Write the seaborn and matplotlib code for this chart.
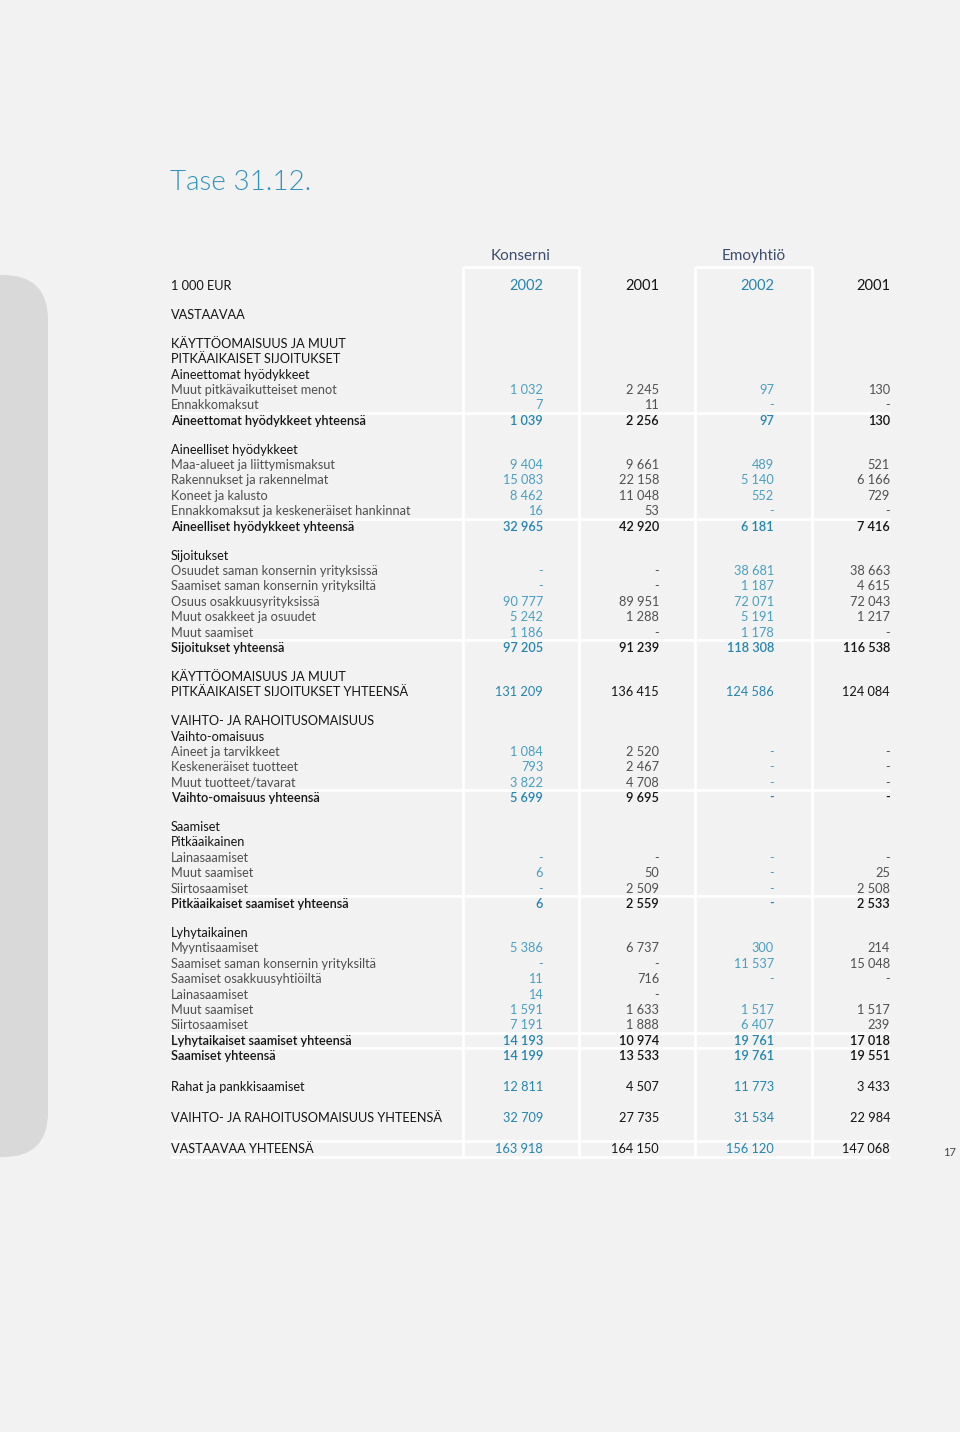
import numpy as np
import pandas as pd
import seaborn as sns
import matplotlib.pyplot as plt
from matplotlib.patches import FancyBboxPatch

sns.set_theme(style="white")
plt.rcParams["font.family"] = ["Lato", "DejaVu Sans"]

# --- data -------------------------------------------------------------
title = "Tase 31.12."
groups = ["Konserni", "Emoyhtiö"]
years = ["2002", "2001", "2002", "2001"]
unit = "1 000 EUR"

# row kinds: c = column header, h = heading, i = item, t = subtotal,
# T = total (plain), G = grand total, s = short gap, g = full gap
labels = [
    unit, "", "VASTAAVAA", "",
    "KÄYTTÖOMAISUUS JA MUUT", "PITKÄAIKAISET SIJOITUKSET", "Aineettomat hyödykkeet",
    "Muut pitkävaikutteiset menot", "Ennakkomaksut", "Aineettomat hyödykkeet yhteensä", "",
    "Aineelliset hyödykkeet", "Maa-alueet ja liittymismaksut", "Rakennukset ja rakennelmat",
    "Koneet ja kalusto", "Ennakkomaksut ja keskeneräiset hankinnat",
    "Aineelliset hyödykkeet yhteensä", "",
    "Sijoitukset", "Osuudet saman konsernin yrityksissä", "Saamiset saman konsernin yrityksiltä",
    "Osuus osakkuusyrityksissä", "Muut osakkeet ja osuudet", "Muut saamiset",
    "Sijoitukset yhteensä", "",
    "KÄYTTÖOMAISUUS JA MUUT", "PITKÄAIKAISET SIJOITUKSET YHTEENSÄ", "",
    "VAIHTO- JA RAHOITUSOMAISUUS", "Vaihto-omaisuus", "Aineet ja tarvikkeet",
    "Keskeneräiset tuotteet", "Muut tuotteet/tavarat", "Vaihto-omaisuus yhteensä", "",
    "Saamiset", "Pitkäaikainen", "Lainasaamiset", "Muut saamiset", "Siirtosaamiset",
    "Pitkäaikaiset saamiset yhteensä", "",
    "Lyhytaikainen", "Myyntisaamiset", "Saamiset saman konsernin yrityksiltä",
    "Saamiset osakkuusyhtiöiltä", "Lainasaamiset", "Muut saamiset", "Siirtosaamiset",
    "Lyhytaikaiset saamiset yhteensä", "Saamiset yhteensä", "",
    "Rahat ja pankkisaamiset", "",
    "VAIHTO- JA RAHOITUSOMAISUUS YHTEENSÄ", "",
    "VASTAAVAA YHTEENSÄ",
]
kinds = [
    "c", "s", "h", "s",
    "h", "h", "h",
    "i", "i", "t", "s",
    "h", "i", "i", "i", "i", "t", "s",
    "h", "i", "i", "i", "i", "i", "t", "s",
    "h", "T", "s",
    "h", "h", "i", "i", "i", "t", "s",
    "h", "h", "i", "i", "i", "t", "s",
    "h", "i", "i", "i", "i", "i", "i", "t", "t", "g",
    "T", "g",
    "T", "g",
    "G",
]
N = None
konserni_2002 = [
    N, N, N, N, N, N, N,
    1032, 7, 1039, N,
    N, 9404, 15083, 8462, 16, 32965, N,
    N, 0, 0, 90777, 5242, 1186, 97205, N,
    N, 131209, N,
    N, N, 1084, 793, 3822, 5699, N,
    N, N, 0, 6, 0, 6, N,
    N, 5386, 0, 11, 14, 1591, 7191, 14193, 14199, N,
    12811, N, 32709, N, 163918,
]
konserni_2001 = [
    N, N, N, N, N, N, N,
    2245, 11, 2256, N,
    N, 9661, 22158, 11048, 53, 42920, N,
    N, 0, 0, 89951, 1288, 0, 91239, N,
    N, 136415, N,
    N, N, 2520, 2467, 4708, 9695, N,
    N, N, 0, 50, 2509, 2559, N,
    N, 6737, 0, 716, 0, 1633, 1888, 10974, 13533, N,
    4507, N, 27735, N, 164150,
]
emo_2002 = [
    N, N, N, N, N, N, N,
    97, 0, 97, N,
    N, 489, 5140, 552, 0, 6181, N,
    N, 38681, 1187, 72071, 5191, 1178, 118308, N,
    N, 124586, N,
    N, N, 0, 0, 0, 0, N,
    N, N, 0, 0, 0, 0, N,
    N, 300, 11537, 0, N, 1517, 6407, 19761, 19761, N,
    11773, N, 31534, N, 156120,
]
emo_2001 = [
    N, N, N, N, N, N, N,
    130, 0, 130, N,
    N, 521, 6166, 729, 0, 7416, N,
    N, 38663, 4615, 72043, 1217, 0, 116538, N,
    N, 124084, N,
    N, N, 0, 0, 0, 0, N,
    N, N, 0, 25, 2508, 2533, N,
    N, 214, 15048, 0, N, 1517, 239, 17018, 19551, N,
    3433, N, 22984, N, 147068,
]
page_no = "17"

# --- layout -----------------------------------------------------------
df = pd.DataFrame({"label": labels, "kind": kinds,
                   "k2002": konserni_2002, "k2001": konserni_2001,
                   "e2002": emo_2002, "e2001": emo_2001})

pitch, short_gap = 15.4, 13.5
ys, y = [], 286.0
for i, k in enumerate(df["kind"]):
    if i > 0:
        y += short_gap if k == "s" else pitch
    ys.append(y)
df["y"] = ys

BG = "#f2f2f2"
BLUE = "#2585b0"
BLUE_LIGHT = "#4a9fc2"
DARK = "#151515"
GREY = "#505050"
col_right = [543, 659, 774, 890]
col_keys = ["k2002", "k2001", "e2002", "e2001"]
box_x = [(462.5, 578.5), (695, 811.5)]
x_left, x_right = 171, 890
fs = 9.2

def fmt(v):
    if v is None or (isinstance(v, float) and np.isnan(v)):
        return ""
    v = int(v)
    return "-" if v == 0 else f"{v:,}".replace(",", " ")

fig = plt.figure(figsize=(9.6, 14.32), dpi=100, facecolor=BG)
ax = fig.add_axes([0, 0, 1, 1])
ax.set_facecolor(BG)
ax.set_xlim(0, 960)
ax.set_ylim(1432, 0)
ax.axis("off")

# grey tab on the left edge
bottom = df["y"].iloc[-1] + 8.5
ax.add_patch(FancyBboxPatch((-80, 275), 128, bottom - 275,
                            boxstyle="round,pad=0,rounding_size=45",
                            fc="#d9d9d9", ec="none", zorder=0))

# white rules
ax.vlines([b for pair in box_x for b in pair], 267, bottom, color="white", lw=2, zorder=1)
for x0, x1 in box_x:
    ax.hlines(267, x0, x1, color="white", lw=2, zorder=1)
for _, r in df.iterrows():
    if r["kind"] in ("t", "G"):
        ax.hlines(r["y"] - 7.8, x_left - 1, x_right, color="white", lw=2, zorder=1)
    if r["kind"] == "G":
        ax.hlines(r["y"] + 8.5, x_left - 1, x_right, color="white", lw=2, zorder=1)

# title and column headings
ax.text(x_left - 1, 183, title, fontsize=20, color="#3493bb", fontweight=300, va="center")
for (x0, x1), g in zip(box_x, groups):
    ax.text((x0 + x1) / 2, 256, g, fontsize=11, color="#3b4d6e", ha="center", va="center")
header_y = df["y"].iloc[0]
for xr, yr, i in zip(col_right, years, range(4)):
    ax.text(xr, header_y, yr, fontsize=10.5, ha="right", va="center",
            color=BLUE if i % 2 == 0 else DARK)

# table body
label_style = {"c": ("normal", DARK), "h": ("normal", DARK), "i": ("normal", GREY),
               "t": ("semibold", DARK), "T": ("normal", DARK), "G": ("normal", DARK)}
for _, r in df.iterrows():
    k = r["kind"]
    if k in ("s", "g"):
        continue
    w, c = label_style[k]
    ax.text(x_left, r["y"], r["label"], fontsize=fs, fontweight=w, color=c, va="center")
    for j, (key, xr) in enumerate(zip(col_keys, col_right)):
        txt = fmt(r[key])
        if not txt:
            continue
        if j % 2 == 0:
            vc = BLUE_LIGHT if k == "i" else BLUE
        else:
            vc = GREY if k == "i" else DARK
        ax.text(xr, r["y"], txt, fontsize=fs, fontweight=w, color=vc, ha="right", va="center")

ax.text(950, bottom - 5, page_no, fontsize=8, color="#444444", ha="center", va="center")

fig.savefig("out.png", dpi=100, facecolor=BG)
